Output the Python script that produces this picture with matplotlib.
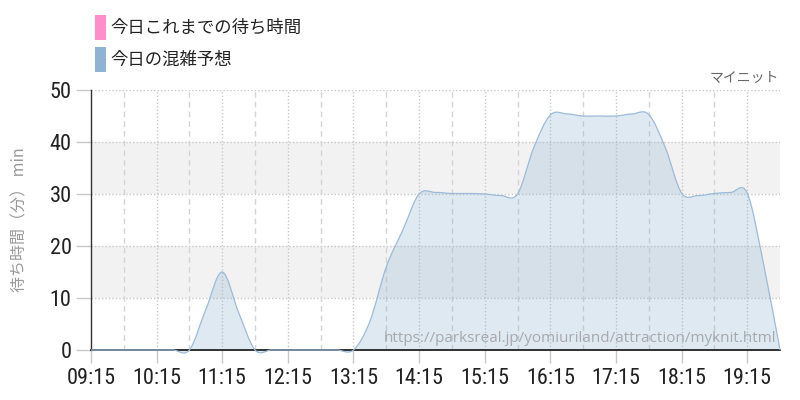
import matplotlib
matplotlib.use("Agg")
import matplotlib.pyplot as plt
import numpy as np
from matplotlib.path import Path
from matplotlib.patches import PathPatch, Rectangle
from matplotlib import font_manager

# ---- data ----
times = ["09:15", "09:30", "09:45", "10:00", "10:15", "10:30", "10:45", "11:00",
         "11:15", "11:30", "11:45", "12:00", "12:15", "12:30", "12:45", "13:00",
         "13:15", "13:30", "13:45", "14:00", "14:15", "14:30", "14:45", "15:00",
         "15:15", "15:30", "15:45", "16:00", "16:15", "16:30", "16:45", "17:00",
         "17:15", "17:30", "17:45", "18:00", "18:15", "18:30", "18:45", "19:00",
         "19:15", "19:30", "19:45"]
forecast = [0, 0, 0, 0, 0, 0, 0, 7.8,
            15, 7.2, 0, 0, 0, 0, 0, 0,
            0, 5.5, 16, 23, 30, 30.3, 30.1, 30.1,
            30, 29.7, 30, 39, 45.2, 45.4, 45, 45,
            45, 45.4, 45.3, 39, 30.2, 29.7, 30.1, 30.3,
            30.2, 16.5, 0]
tick_labels = ["09:15", "10:15", "11:15", "12:15", "13:15", "14:15",
               "15:15", "16:15", "17:15", "18:15", "19:15"]
minor_labels = ["09:45", "10:45", "11:45", "12:45", "13:45", "14:45",
                "15:45", "16:45", "17:45", "18:45", "19:45"]
y_ticks = [0, 10, 20, 30, 40, 50]
bands = [(10, 20), (30, 40)]
legend_labels = ["今日これまでの待ち時間", "今日の混雑予想"]
legend_colors = ["#ff8ccb", "#8fb3d2"]
y_label = "待ち時間（分） min"
attraction = "マイニット"
watermark = "https://parksreal.jp/yomiuriland/attraction/myknit.html"


def to_hours(s):
    h, m = s.split(":")
    return int(h) + int(m) / 60.0


x = np.array([to_hours(t) for t in times])
y = np.array(forecast, dtype=float)
xt = [to_hours(t) for t in tick_labels]
xm = [to_hours(t) for t in minor_labels]

names = {f.name for f in font_manager.fontManager.ttflist}
narrow_fp = None
for cand in ["Roboto Condensed", "Liberation Sans Narrow", "Open Sans Condensed"]:
    if cand in names:
        narrow_fp = font_manager.FontProperties(family=cand, size=16)
        break
if narrow_fp is None:
    narrow_fp = font_manager.FontProperties(family="DejaVu Sans", stretch="condensed", size=15)

CJK = ["Noto Sans CJK JP", "DejaVu Sans"]

fig = plt.figure(figsize=(8, 4), dpi=100)
ax = fig.add_axes([91 / 800, 1 - 350 / 400, (780 - 91) / 800, (350 - 90) / 400])
ax.set_xlim(x[0], x[-1])
ax.set_ylim(0, 50)

for lo, hi in bands:
    ax.axhspan(lo, hi, color="#f2f2f2", zorder=0, lw=0)

for v in y_ticks[1:]:
    ax.axhline(v, color="#c8c8c8", lw=1, ls=(0, (1, 1.5)), zorder=1)
for v in xt[1:]:
    ax.axvline(v, color="#c8c8c8", lw=1, ls=(0, (1, 1.5)), zorder=1)
for v in xm[:-1]:
    ax.axvline(v, color="#d4d4d4", lw=1, ls=(0, (4, 3)), zorder=1)

# Catmull-Rom spline as cubic Bezier path
pts = np.column_stack([x, y])
ext = np.vstack([pts[0], pts, pts[-1]])
verts = [tuple(pts[0])]
codes = [Path.MOVETO]
for i in range(len(pts) - 1):
    p0, p1, p2, p3 = ext[i], ext[i + 1], ext[i + 2], ext[i + 3]
    c1 = p1 + (p2 - p0) / 6.0
    c2 = p2 - (p3 - p1) / 6.0
    verts += [tuple(c1), tuple(c2), tuple(p2)]
    codes += [Path.CURVE4] * 3
line_path = Path(verts, codes)
fill_verts = verts + [(x[-1], 0), (x[0], 0), (x[0], 0)]
fill_codes = codes + [Path.LINETO, Path.LINETO, Path.CLOSEPOLY]
fill_path = Path(fill_verts, fill_codes)
ax.add_patch(PathPatch(fill_path, facecolor=(143 / 255, 179 / 255, 210 / 255, 0.28),
                       edgecolor="none", zorder=2, clip_on=False))
ax.add_patch(PathPatch(line_path, facecolor="none", edgecolor="#9dbbd6", lw=0.9,
                       zorder=5, clip_on=False))

for s in ["top", "right"]:
    ax.spines[s].set_visible(False)
ax.spines["left"].set_color("#333333")
ax.spines["bottom"].set_color("#222222")
ax.spines["left"].set_linewidth(1.0)
ax.spines["bottom"].set_linewidth(1.3)
ax.spines["left"].set_zorder(4)
ax.spines["bottom"].set_zorder(4)

ax.set_xticks(xt)
ax.set_xticklabels(tick_labels, fontproperties=narrow_fp, color="#222222")
ax.set_yticks(y_ticks)
ax.set_yticklabels([str(v) for v in y_ticks], fontproperties=narrow_fp, color="#222222")
ax.tick_params(axis="x", length=9, width=1, color="#c8c8c8", pad=4)
ax.tick_params(axis="y", length=11, width=1, color="#c8c8c8", pad=3)

ax.set_ylabel(y_label, fontfamily=CJK, fontsize=11.5, color="#999999")
ax.yaxis.set_label_coords(-0.0914, 0.5)

fig.text(779 / 800, 1 - 78 / 400, attraction, ha="right", va="center",
         fontfamily=CJK, fontsize=10, color="#666666")
fig.text(776 / 800, 1 - 338 / 400, watermark, ha="right", va="center",
         fontfamily=["Open Sans", "DejaVu Sans"], fontsize=11, color="#888888", alpha=0.65,
         zorder=6)

for i, (lab, col) in enumerate(zip(legend_labels, legend_colors)):
    top = 15 + i * 32
    fig.add_artist(Rectangle((95 / 800, 1 - (top + 25) / 400), 11 / 800, 25 / 400,
                             transform=fig.transFigure, facecolor=col, edgecolor="none"))
    fig.text(110 / 800, 1 - (top + 13) / 400, lab, ha="left", va="center",
             fontfamily=CJK, fontsize=12.5, color="#222222")

fig.savefig("out.png", dpi=100)
